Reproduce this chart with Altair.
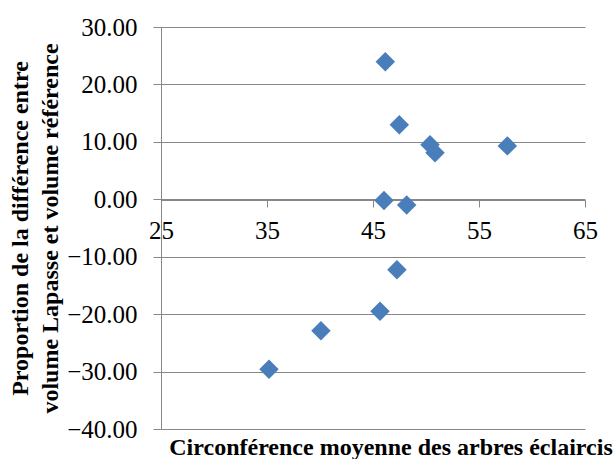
import altair as alt
import pandas as pd

circ = [46.16, 47.48, 50.38, 50.85, 57.67, 46.04, 48.18, 47.26, 45.66, 40.09, 35.19]
prop = [23.97, 13.0, 9.5, 8.1, 9.3, -0.2, -1.0, -12.25, -19.5, -22.9, -29.6]

df = pd.DataFrame({"circ": circ, "prop": prop})

FONT = "Liberation Serif"
GRAY = "#878787"

chart = alt.Chart(df).mark_point(
    shape="diamond", filled=True, size=380, color="#4A7EBB", opacity=1
).encode(
    x=alt.X("circ:Q", scale=alt.Scale(domain=[25, 65], nice=False, zero=False),
            axis=alt.Axis(values=[25, 35, 45, 55, 65], title=None, grid=False,
                          offset=-229, tickSize=7, labelPadding=11,
                          labelFont=FONT, labelFontSize=25, labelColor="black",
                          domainColor=GRAY, tickColor=GRAY, labelFlush=False)),
    y=alt.Y("prop:Q", scale=alt.Scale(domain=[-40, 30], nice=False, zero=False),
            axis=alt.Axis(values=[-40, -30, -20, -10, 0, 10, 20, 30], format=".2f",
                          title=["Proportion de la différence entre", "volume Lapasse et volume référence"],
                          titleFont=FONT, titleFontSize=24, titleFontWeight="bold",
                          titleColor="black", titleLineHeight=30,
                          titleX=-141, titleY=201, titleAngle=-90,
                          titleAlign="center", titleBaseline="middle",
                          grid=True, gridColor=GRAY, tickSize=8, labelPadding=16,
                          labelFont=FONT, labelFontSize=25, labelColor="black",
                          domainColor=GRAY, tickColor=GRAY)),
).properties(
    width=424, height=402,
    autosize="none",
    padding={"left": 161, "top": 27, "right": 30, "bottom": 30},
    title=alt.TitleParams("Circonférence moyenne des arbres éclaircis", orient="bottom",
                          frame="group", anchor="middle", dx=18, offset=-6,
                          font=FONT, fontSize=24, fontWeight="bold", color="black"),
).configure_view(stroke=None)

chart.save("out.html", embed_options={"renderer": "svg", "actions": False})
